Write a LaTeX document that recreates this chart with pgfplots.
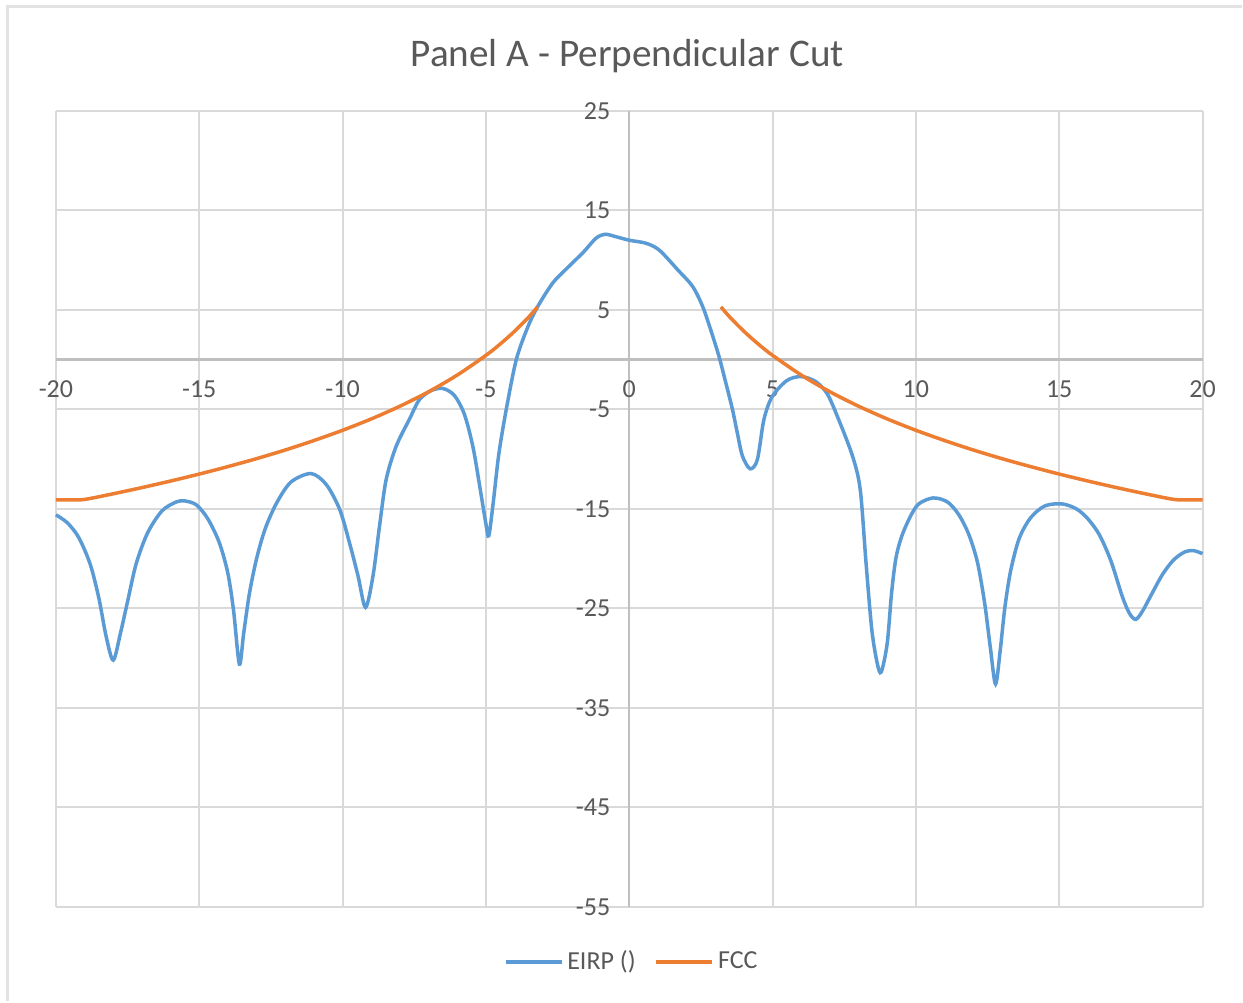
\documentclass[border=0pt]{standalone}
\usepackage{pgfplots}
\pgfplotsset{compat=1.18}
\usepackage{fontspec}
\setmainfont{Carlito}
\definecolor{eirpblue}{HTML}{5B9BD5}
\definecolor{fccorange}{HTML}{ED7D31}
\definecolor{gridgray}{HTML}{D9D9D9}
\definecolor{axisgray}{HTML}{BFBFBF}
\definecolor{labelgray}{HTML}{595959}
\definecolor{framegray}{HTML}{E3E3E3}

% 1 px of the reference = 0.5pt
\begin{document}
\begin{tikzpicture}
  \fill[white] (0pt,0pt) rectangle (621.5pt,501pt);
  \draw[framegray, line width=1.5pt] (4pt,0pt) -- (4pt,497.8pt) -- (621.5pt,497.8pt);
  \node[text=labelgray, font=\fontsize{19.6}{24}\selectfont] at (314pt,473pt) {Panel A - Perpendicular Cut};

  \begin{axis}[
      at={(28pt,47pt)}, anchor=south west,
      scale only axis, width=574pt, height=398.5pt,
      xmin=-20, xmax=20, ymin=-55, ymax=25,
      axis lines=center,
      axis line style={draw=axisgray, line width=1.2pt, -},
      xtick={-20,-15,...,20}, ytick={-55,-45,...,25},
      grid=major, major grid style={gridgray, line width=1pt},
      major tick length=0pt,
      tick label style={font=\fontsize{13}{15}\selectfont, text=labelgray},
      xticklabel style={yshift=-7pt},
      yticklabel style={xshift=-6pt},
      /pgf/number format/assume math mode=true,
      clip=false,
      legend style={draw=none, fill=none, at={(0.503,-0.069)}, anchor=center,
        font=\fontsize{13}{15}\selectfont, text=labelgray,
        nodes={inner xsep=2pt},
        /tikz/every even column/.append style={column sep=7.5pt}},
      legend columns=2,
      legend image code/.code={\draw[#1, line width=1.75pt] (0pt,0pt) -- (28pt,0pt);},
    ]
    \addplot[eirpblue, line width=1.75pt, smooth] coordinates {
      (-20,-15.6) (-19.6,-16.4) (-19.2,-17.9) (-18.8,-20.6) (-18.5,-24.0)
      (-18.25,-27.8) (-18.0,-30.2) (-17.75,-27.5) (-17.5,-24.3) (-17.2,-20.5)
      (-16.8,-17.4) (-16.3,-15.2) (-15.8,-14.3) (-15.5,-14.2) (-15.1,-14.6)
      (-14.7,-16.0) (-14.3,-18.4) (-14.0,-21.5) (-13.8,-25.3) (-13.6,-30.6)
      (-13.45,-27.5) (-13.25,-23.5) (-13.0,-20.0) (-12.7,-17.0) (-12.3,-14.4)
      (-11.8,-12.3) (-11.1,-11.45) (-10.57,-12.55) (-10.1,-15.06)
      (-9.76,-18.4) (-9.46,-21.75) (-9.2,-24.9) (-8.94,-21.75) (-8.71,-16.7)
      (-8.48,-12.05) (-8.13,-8.7) (-7.67,-6.0) (-7.32,-4.02) (-6.9,-3.1)
      (-6.5,-2.9) (-6.1,-3.6) (-5.75,-5.5) (-5.45,-8.8) (-5.2,-13.0)
      (-5.0,-16.5) (-4.9,-17.7) (-4.75,-14.5) (-4.55,-9.5) (-4.29,-5.0)
      (-3.94,0.0) (-3.55,3.2) (-3.2,5.3) (-2.67,7.7) (-2.2,9.1)
      (-1.6,10.8) (-1.16,12.2) (-0.84,12.6) (-0.46,12.35) (0,12.0)
      (0.58,11.7) (1.05,11.0) (1.7,9.0) (2.21,7.36) (2.56,5.35)
      (2.84,3.01) (3.13,0.33) (3.37,-2.34) (3.6,-5.0) (3.77,-7.36)
      (3.95,-9.7) (4.22,-10.97) (4.47,-10.04) (4.7,-6.0) (4.99,-3.7)
      (5.5,-2.1) (6.0,-1.7) (6.5,-2.2) (6.9,-3.4) (7.26,-5.7)
      (7.79,-9.7) (8.06,-13.1) (8.26,-20.4) (8.46,-27.1) (8.65,-30.5)
      (8.79,-31.4) (9.0,-28.5) (9.15,-23.5) (9.3,-20.0) (9.5,-17.8)
      (9.8,-15.8) (10.1,-14.5) (10.6,-13.9) (11.1,-14.3) (11.5,-15.6)
      (11.85,-17.6) (12.15,-20.4) (12.4,-24.5) (12.6,-29.0) (12.78,-32.6)
      (12.95,-29.0) (13.1,-25.0) (13.3,-21.3) (13.6,-18.0) (14.0,-15.9)
      (14.5,-14.7) (15.1,-14.5) (15.6,-15.0) (16.0,-16.0) (16.4,-17.6)
      (16.8,-20.2) (17.2,-23.8) (17.45,-25.5) (17.67,-26.1) (17.9,-25.3)
      (18.2,-23.7) (18.6,-21.6) (19.0,-20.1) (19.4,-19.3) (19.7,-19.2)
      (20,-19.5)
    };
    \addlegendentry{EIRP ()}
    \addplot[fccorange, line width=1.75pt, smooth] coordinates {
      (-20,-14.1) (-19.5,-14.1) (-19,-14.05) (-18,-13.48) (-17,-12.86)
      (-16,-12.2) (-15,-11.5) (-14,-10.75) (-13,-9.95) (-12,-9.08)
      (-11,-8.13) (-10,-7.1) (-9,-5.96) (-8,-4.68) (-7,-3.23)
      (-6,-1.55) (-5,0.43) (-4.5,1.57) (-4,2.85) (-3.5,4.3) (-3.2,5.3)
    };
    \addlegendentry{FCC}
    \addplot[fccorange, line width=1.75pt, smooth, forget plot] coordinates {
      (3.2,5.3) (3.5,4.3) (4,2.85) (4.5,1.57) (5,0.43)
      (6,-1.55) (7,-3.23) (8,-4.68) (9,-5.96) (10,-7.1)
      (11,-8.13) (12,-9.08) (13,-9.95) (14,-10.75) (15,-11.5)
      (16,-12.2) (17,-12.86) (18,-13.48) (19,-14.05) (19.5,-14.1) (20,-14.1)
    };
    \node[anchor=north, yshift=-7pt, text=labelgray, font=\fontsize{13}{15}\selectfont] at (axis cs:0,0) {0};
  \end{axis}
\end{tikzpicture}
\end{document}
